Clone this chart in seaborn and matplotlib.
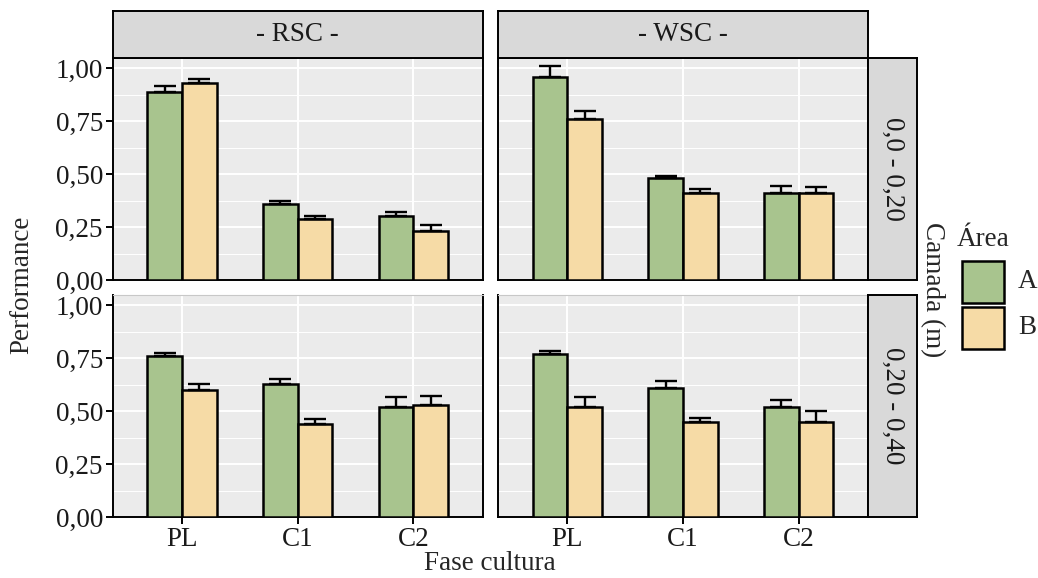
import numpy as np
import pandas as pd
import seaborn as sns
import matplotlib
matplotlib.use("Agg")
import matplotlib.pyplot as plt
from matplotlib.patches import Rectangle

# ---- data -------------------------------------------------------------
fases = ["PL", "C1", "C2"]
areas = ["A", "B"]
sistemas = ["- RSC -", "- WSC -"]
camadas = ["0,0 - 0,20", "0,20 - 0,40"]

# mean performance, one value per crop phase (PL, C1, C2)
rsc_0_20_a = [0.89, 0.36, 0.30]
rsc_0_20_b = [0.93, 0.29, 0.23]
wsc_0_20_a = [0.96, 0.48, 0.41]
wsc_0_20_b = [0.76, 0.41, 0.41]
rsc_20_40_a = [0.76, 0.63, 0.52]
rsc_20_40_b = [0.60, 0.44, 0.53]
wsc_20_40_a = [0.77, 0.61, 0.52]
wsc_20_40_b = [0.52, 0.45, 0.45]

# standard errors (upper whisker only)
rsc_0_20_a_se = [0.024, 0.011, 0.020]
rsc_0_20_b_se = [0.019, 0.013, 0.030]
wsc_0_20_a_se = [0.050, 0.010, 0.035]
wsc_0_20_b_se = [0.036, 0.020, 0.030]
rsc_20_40_a_se = [0.015, 0.021, 0.045]
rsc_20_40_b_se = [0.030, 0.023, 0.040]
wsc_20_40_a_se = [0.013, 0.034, 0.033]
wsc_20_40_b_se = [0.045, 0.017, 0.050]

y_ticks = [0.0, 0.25, 0.50, 0.75, 1.00]
y_tick_labels = ["0,00", "0,25", "0,50", "0,75", "1,00"]

series = {
    (camadas[0], sistemas[0]): {"A": (rsc_0_20_a, rsc_0_20_a_se), "B": (rsc_0_20_b, rsc_0_20_b_se)},
    (camadas[0], sistemas[1]): {"A": (wsc_0_20_a, wsc_0_20_a_se), "B": (wsc_0_20_b, wsc_0_20_b_se)},
    (camadas[1], sistemas[0]): {"A": (rsc_20_40_a, rsc_20_40_a_se), "B": (rsc_20_40_b, rsc_20_40_b_se)},
    (camadas[1], sistemas[1]): {"A": (wsc_20_40_a, wsc_20_40_a_se), "B": (wsc_20_40_b, wsc_20_40_b_se)},
}

rows = []
for (cam, sis), by_area in series.items():
    for area, (vals, ses) in by_area.items():
        for fase, v, s in zip(fases, vals, ses):
            rows.append({"camada": cam, "sistema": sis, "area": area,
                         "fase": fase, "perf": v, "se": s})
df = pd.DataFrame(rows)

# ---- style ------------------------------------------------------------
sns.set_theme(style="white")
SERIF = ["Liberation Serif", "DejaVu Serif"]
plt.rcParams["font.family"] = SERIF

palette = {"A": "#A8C48E", "B": "#F6DBA6"}
panel_bg = "#EBEBEB"
strip_bg = "#D9D9D9"
fs = 19.5
txt_col = "#1a1a1a"
lw_edge = 1.8

W, H = 1038, 578
fig = plt.figure(figsize=(W / 100, H / 100), dpi=100)


def px_axes(x0, y0, x1, y1):
    """Axes from pixel box (top-left origin)."""
    return fig.add_axes([x0 / W, 1 - y1 / H, (x1 - x0) / W, (y1 - y0) / H])


col_x = [(112.7, 482.7), (498.0, 868.0)]
row_y = [(58.3, 280.0), (295.0, 517.3)]

for r, cam in enumerate(camadas):
    for c, sis in enumerate(sistemas):
        ax = px_axes(col_x[c][0], row_y[r][0], col_x[c][1], row_y[r][1])
        sub = df[(df.camada == cam) & (df.sistema == sis)]
        sns.barplot(data=sub, x="fase", y="perf", hue="area", order=fases,
                    hue_order=areas, palette=palette, width=0.6, saturation=1,
                    edgecolor="black", linewidth=lw_edge, errorbar=None,
                    legend=False, ax=ax, zorder=3)
        # upper error whiskers placed on each bar
        for container, area in zip(ax.containers, areas):
            ses = sub[sub.area == area].set_index("fase").loc[fases, "se"].values
            for bar, s in zip(container, ses):
                xc = bar.get_x() + bar.get_width() / 2
                yv = bar.get_height()
                ax.errorbar([xc], [yv], yerr=[[0], [s]], fmt="none",
                            ecolor="black", elinewidth=1.7, capsize=8.2,
                            capthick=1.7, zorder=4)

        ax.set_facecolor(panel_bg)
        ax.set_xlim(-0.6, 2.6)
        ax.set_ylim(0, 1.047)
        ax.set_yticks(y_ticks)
        ax.set_yticks([0.125, 0.375, 0.625, 0.875], minor=True)
        ax.set_axisbelow(True)
        ax.grid(which="major", color="white", linewidth=1.4)
        ax.grid(which="minor", axis="y", color="white", linewidth=0.7)
        ax.set_xlabel("")
        ax.set_ylabel("")
        for side in ["left", "right", "bottom", "top"]:
            ax.spines[side].set_color("black")
            ax.spines[side].set_linewidth(1.4)
        if r == 1:
            ax.spines["top"].set_color("#C8C8C8")
            ax.spines["top"].set_linewidth(0.8)
        ax.tick_params(which="minor", length=0)
        if c == 0:
            ax.set_yticklabels(y_tick_labels, fontsize=fs, color=txt_col,
                               family=SERIF)
            ax.tick_params(axis="y", which="major", length=5, width=1.4,
                           color="black", pad=2, left=True)
        else:
            ax.tick_params(axis="y", which="major", length=0, labelleft=False)
        if r == 1:
            ax.set_xticks(range(len(fases)))
            ax.set_xticklabels(fases, fontsize=fs, color=txt_col, family=SERIF)
            ax.tick_params(axis="x", which="major", length=5, width=1.4,
                           color="black", pad=2, bottom=True)
        else:
            ax.tick_params(axis="x", which="major", length=0, labelbottom=False)

# facet strips
for c, sis in enumerate(sistemas):
    sx = px_axes(col_x[c][0], 11.0, col_x[c][1], row_y[0][0])
    sx.set_facecolor(strip_bg)
    sx.set_xticks([]); sx.set_yticks([])
    for sp in sx.spines.values():
        sp.set_color("black"); sp.set_linewidth(1.4)
    sx.text(0.5, 0.5, sis, ha="center", va="center", fontsize=fs,
            family=SERIF, transform=sx.transAxes, color=txt_col)

for r, cam in enumerate(camadas):
    sy = px_axes(868.0, row_y[r][0], 916.5, row_y[r][1])
    sy.set_facecolor(strip_bg)
    sy.set_xticks([]); sy.set_yticks([])
    for sp in sy.spines.values():
        sp.set_color("black"); sp.set_linewidth(1.4)
    sy.text(0.5, 0.5, cam, ha="center", va="center", fontsize=fs,
            family=SERIF, rotation=270, transform=sy.transAxes, color=txt_col)

# axis titles
fig.text(22 / W, 1 - 285 / H, "Performance", rotation=90, ha="center",
         va="center", fontsize=fs, family=SERIF)
fig.text(490 / W, 1 - 564 / H, "Fase cultura", ha="center", va="center",
         fontsize=fs, family=SERIF)
fig.text(932 / W, 1 - 290 / H, "Camada (m)", rotation=270, ha="center",
         va="center", fontsize=fs, family=SERIF)

# legend
fig.text(957 / W, 1 - 240 / H, "Área", ha="left", va="center", fontsize=fs,
         family=SERIF)
key_y = [(260.7, 303.0), (306.7, 349.0)]
for area, (y0, y1) in zip(areas, key_y):
    fig.patches.append(Rectangle((962 / W, 1 - y1 / H), 42 / W, (y1 - y0) / H,
                                 transform=fig.transFigure,
                                 facecolor=palette[area], edgecolor="black",
                                 linewidth=lw_edge))
    fig.text(1018 / W, 1 - (y0 + y1) / 2 / H, area, ha="left", va="center",
             fontsize=fs, family=SERIF)

fig.savefig("out.png", dpi=100)
